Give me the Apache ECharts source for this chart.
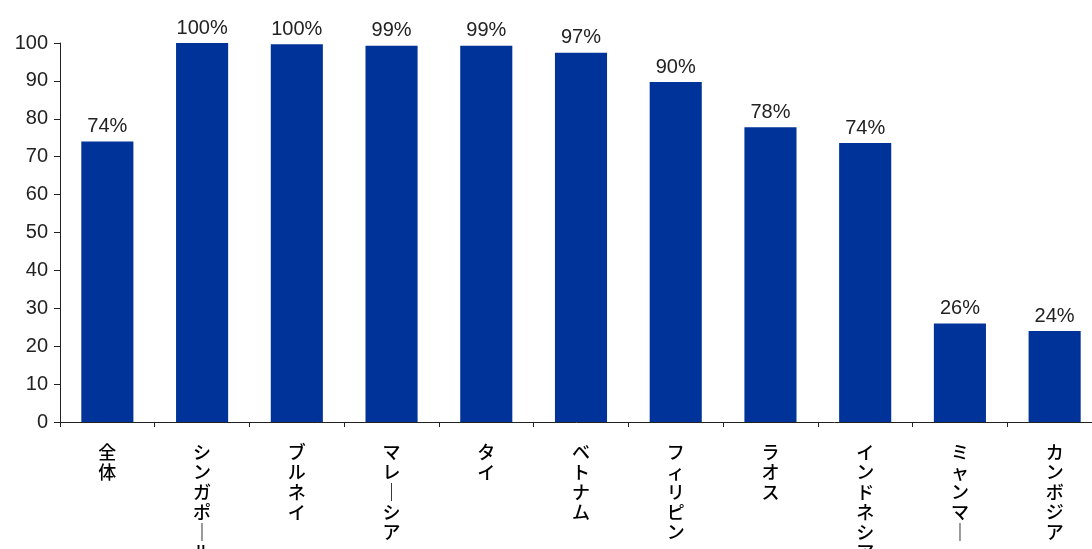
<!DOCTYPE html>
<html>
<head>
<meta charset="utf-8">
<script src="https://cdn.jsdelivr.net/npm/echarts@6/dist/echarts.min.js"></script>
<style>
  html, body { margin: 0; padding: 0; background: #fff; }
  #chart { width: 1092px; height: 549px; }
</style>
</head>
<body>
<div id="chart"></div>
<script>
// Share by country (%)
const categories = ['全体', 'シンガポール', 'ブルネイ', 'マレーシア', 'タイ', 'ベトナム',
  'フィリピン', 'ラオス', 'インドネシア', 'ミャンマー', 'カンボジア'];
const values = [74.0, 100, 99.7, 99.3, 99.3, 97.4, 89.7, 77.8, 73.6, 26.0, 24.0];
const yTicks = { min: 0, max: 100, step: 10 };

// Stack characters top to bottom; the long vowel mark turns vertical.
function verticalText(s) {
  return Array.from(s).map(c => (c === 'ー' ? '｜' : c)).join('\n');
}

const chart = echarts.init(document.getElementById('chart'));
chart.setOption({
  animation: false,
  grid: { left: 60, right: -10, top: 43, bottom: 127, containLabel: false, outerBoundsMode: 'none' },
  xAxis: {
    type: 'category',
    data: categories,
    boundaryGap: true,
    axisLine: { lineStyle: { color: '#222', width: 1 } },
    axisTick: { show: true, length: 5, alignWithLabel: false, lineStyle: { color: '#222' } },
    axisLabel: {
      interval: 0,
      margin: 20,
      color: '#000',
      fontSize: 18,
      fontWeight: 500,
      lineHeight: 20,
      fontFamily: '"Noto Sans CJK JP", sans-serif',
      verticalAlign: 'top',
      formatter: verticalText
    }
  },
  yAxis: {
    type: 'value',
    min: yTicks.min,
    max: yTicks.max,
    interval: yTicks.step,
    splitLine: { show: false },
    axisLine: { show: true, lineStyle: { color: '#222', width: 1 } },
    axisTick: { show: true, length: 6, lineStyle: { color: '#222' } },
    axisLabel: {
      margin: 12,
      color: '#222',
      fontSize: 20,
      fontFamily: '"Liberation Sans", Arial, sans-serif'
    }
  },
  series: [{
    type: 'bar',
    data: values,
    barCategoryGap: '45%',
    itemStyle: { color: '#003399' },
    label: {
      show: true,
      position: 'top',
      distance: 5,
      color: '#222',
      fontSize: 20,
      fontFamily: '"Liberation Sans", Arial, sans-serif',
      formatter: p => Math.round(p.value) + '%'
    }
  }]
});
</script>
</body>
</html>
